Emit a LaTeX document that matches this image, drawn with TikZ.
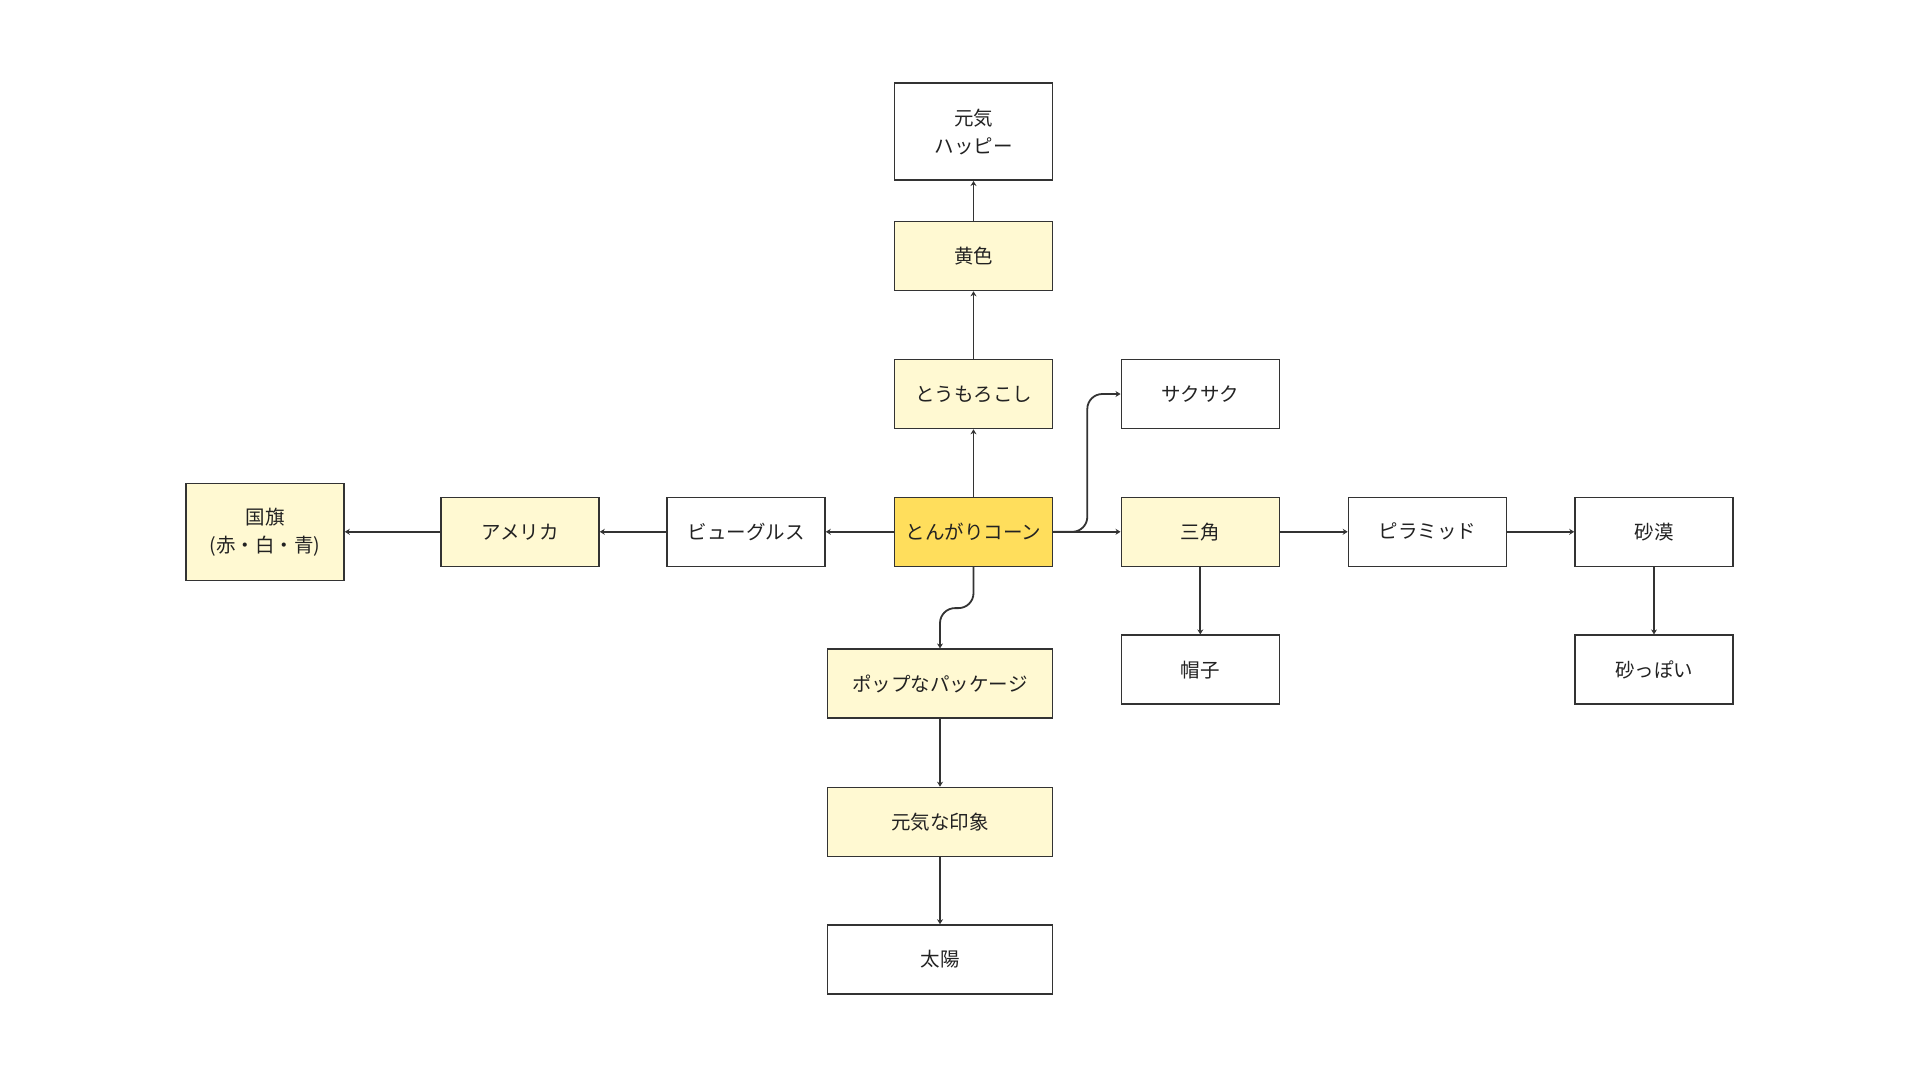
\documentclass[tikz,border=0pt]{standalone}
\usepackage{fontspec}
\setmainfont{Noto Sans CJK JP}
\usepackage{xcolor}
\usetikzlibrary{arrows.meta,positioning,calc}
\definecolor{lightyel}{HTML}{FFF9D2}
\definecolor{mainyel}{HTML}{FFDE5C}
\definecolor{edgegray}{HTML}{333333}
\definecolor{textgray}{HTML}{222222}

\begin{document}
\begin{tikzpicture}[x=1pt,y=-1pt,
	box/.style={draw=edgegray,line width=1.6pt,align=center,minimum width=158pt,minimum height=69pt,fill=white,text=textgray,font=\fontsize{19.5}{28}\selectfont},
	tall/.style={box,minimum height=97pt},
	wide/.style={box,minimum width=225pt},
	pale/.style={fill=lightyel},
	link/.style={draw=edgegray,line width=1.8pt,-{Stealth[length=5pt,width=6pt]}}]
	\useasboundingbox (0,0) rectangle (1920,1080);
	% centre and upward branch
	\node[box,fill=mainyel] (corn) at (973.5,531.8) {とんがりコーン};
	\node[box,pale] (toumo) at (973.5,394) {とうもろこし};
	\node[box,pale] (kiiro) at (973.5,256) {黄色};
	\node[tall] (genki) at (973.5,131.7) {元気\\ハッピー};
	% left branch
	\node[box] (bugle) at (746,531.8) {ビューグルス};
	\node[box,pale] (america) at (520,531.8) {アメリカ};
	\node[tall,pale] (kokki) at (265,531.8) {国旗\\(赤・白・青)};
	% right branch
	\node[box] (saku) at (1200.3,394) {サクサク};
	\node[box,pale] (sankaku) at (1200.3,531.8) {三角};
	\node[box] (boushi) at (1200.3,669.7) {帽子};
	\node[box] (pira) at (1427.5,531.8) {ピラミッド};
	\node[box] (sabaku) at (1654,531.8) {砂漠};
	\node[box] (sappoi) at (1654,669.7) {砂っぽい};
	% downward branch
	\node[wide,pale] (pop) at (940,683.7) {ポップなパッケージ};
	\node[wide,pale] (genkiin) at (940,822) {元気な印象};
	\node[wide] (taiyo) at (940,959.5) {太陽};
	% connectors
	\draw[link] (corn) -- (toumo);
	\draw[link] (toumo) -- (kiiro);
	\draw[link] (kiiro) -- (genki);
	\draw[link] (corn) -- (bugle);
	\draw[link] (bugle) -- (america);
	\draw[link] (america) -- (kokki);
	\draw[link] (corn) -- (sankaku);
	\draw[link] (sankaku) -- (pira);
	\draw[link] (pira) -- (sabaku);
	\draw[link] (sabaku) -- (sappoi);
	\draw[link] (sankaku) -- (boushi);
	\draw[link,rounded corners=15pt] (corn.east) -- ++(34,0) |- (saku.west);
	\draw[link,rounded corners=15pt] (corn.south) -- ++(0,41) -| (pop.north);
	\draw[link] (pop) -- (genkiin);
	\draw[link] (genkiin) -- (taiyo);
\end{tikzpicture}
\end{document}
